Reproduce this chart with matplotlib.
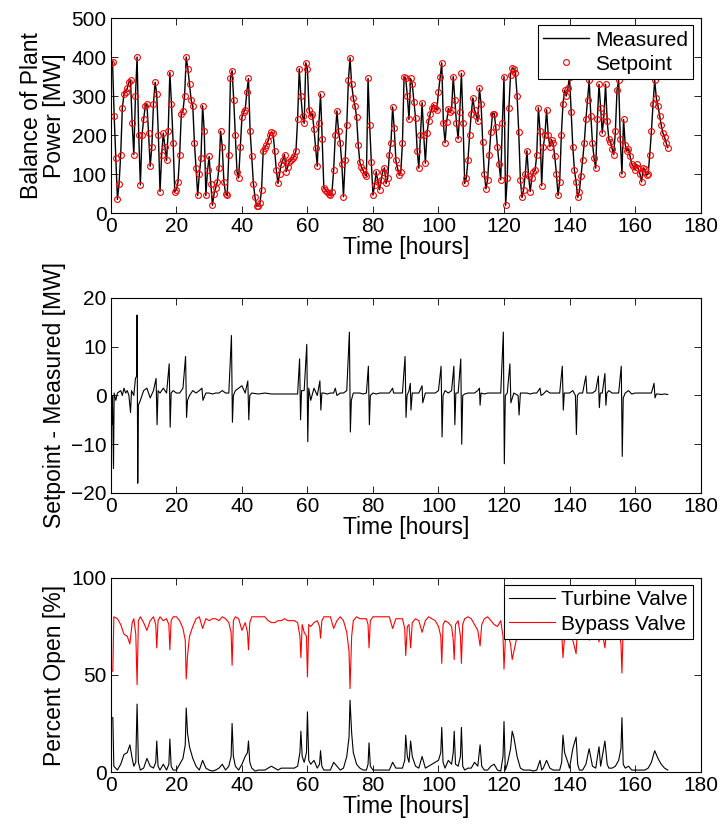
import matplotlib
matplotlib.use("Agg")
import matplotlib.pyplot as plt
import numpy as np

plt.rcParams['font.family'] = ['Liberation Sans', 'DejaVu Sans']

# Balance of plant power setpoint [MW], sampled every 0.5 h from 0 to 170 h
sample_step = 0.5
setpoint = [
    385, 388, 250, 140, 35, 75, 150, 270, 305, 310,          # 0 - 4.5
    320, 335, 340, 230, 150, 300, 400, 200, 72, 200,          # 5 - 9.5
    240, 275, 280, 205, 120, 170, 280, 335, 305, 200,         # 10 - 14.5
    55, 150, 205, 170, 135, 210, 360, 280, 180, 55,           # 15 - 19.5
    60, 80, 150, 255, 262, 300, 400, 370, 330, 290,           # 20 - 24.5
    275, 180, 115, 45, 100, 140, 275, 210, 45, 110,           # 25 - 29.5
    145, 75, 20, 50, 65, 80, 115, 210, 170, 80,               # 30 - 34.5
    50, 45, 150, 345, 365, 290, 200, 105, 90, 170,            # 35 - 39.5
    245, 258, 265, 310, 345, 210, 145, 75, 40, 18,            # 40 - 44.5
    18, 25, 60, 160, 168, 175, 185, 200, 207, 205,            # 45 - 49.5
    160, 110, 76, 100, 125, 136, 150, 106, 119, 131,          # 50 - 54.5
    135, 140, 145, 160, 240, 370, 300, 250, 230, 385,         # 55 - 59.5
    370, 265, 250, 255, 215, 166, 120, 230, 305, 190,         # 60 - 64.5
    65, 60, 55, 48, 45, 55, 110, 200, 262, 210,               # 65 - 69.5
    180, 125, 42, 135, 225, 340, 398, 330, 295, 275,          # 70 - 74.5
    247, 175, 130, 117, 110, 100, 95, 345, 225, 130,          # 75 - 79.5
    46, 72, 106, 80, 60, 85, 106, 116, 76, 90,                # 80 - 84.5
    150, 180, 272, 217, 135, 115, 97, 105, 180, 350,          # 85 - 89.5
    345, 300, 240, 345, 330, 285, 243, 160, 115, 200,         # 90 - 94.5
    283, 200, 128, 205, 235, 255, 270, 278, 270, 265,         # 95 - 99.5
    310, 348, 385, 230, 180, 234, 268, 258, 265, 350,         # 100 - 104.5
    290, 230, 190, 260, 358, 230, 76, 90, 135, 200,           # 105 - 109.5
    255, 295, 265, 250, 235, 320, 280, 183, 100, 62,          # 110 - 114.5
    85, 150, 208, 255, 255, 220, 170, 125, 85, 230,           # 115 - 119.5
    350, 20, 90, 270, 355, 372, 370, 360, 300, 208,           # 120 - 124.5
    85, 40, 60, 100, 160, 95, 55, 90, 105, 110,               # 125 - 129.5
    150, 270, 210, 70, 170, 200, 265, 200, 170, 188,          # 130 - 134.5
    180, 145, 100, 45, 80, 200, 280, 315, 300, 320,           # 135 - 139.5
    350, 260, 170, 110, 80, 40, 55, 95, 135, 180,             # 140 - 144.5
    240, 290, 340, 250, 180, 140, 115, 240, 330, 270,         # 145 - 149.5
    205, 250, 330, 235, 190, 183, 165, 150, 210, 315,         # 150 - 154.5
    340, 190, 100, 240, 175, 160, 165, 145, 125, 120,         # 155 - 159.5
    110, 125, 115, 100, 80, 115, 112, 97, 100, 150,           # 160 - 164.5
    210, 280, 340, 295, 275, 250, 225, 205, 195, 180,         # 165 - 169.5
    168,                                                      # 170
]
# measured output tracks the setpoint within a few MW at this scale
measured = setpoint

# Setpoint - Measured [MW]
err_hours = [
    0, 0.3, 0.5, 0.8, 1.0, 1.5, 2, 3, 3.5, 4, 4.5, 5, 5.5, 6, 6.3, 7, 7.5, 7.9, 8.0, 8.2,
    8.4, 9, 10, 11, 12, 13, 13.8, 14.1, 14.4, 15, 16, 17, 17.8, 18.1, 18.4, 19, 20, 21, 22, 22.8,
    23.1, 23.4, 24, 25, 26, 27, 27.8, 28.1, 29, 30, 31, 32, 33, 34, 35, 36, 36.8, 37.1, 37.4, 38,
    39, 40, 41, 41.8, 42.1, 42.4, 43, 45, 47, 49, 51, 53, 55, 57, 57.6, 57.9, 58.2, 59, 59.8, 60.1,
    60.4, 61, 62, 63, 63.8, 64.1, 64.4, 65, 66, 67, 68, 68.5, 69, 70, 71, 72, 72.8, 73.1, 73.4, 74,
    75, 76, 77, 78, 78.6, 78.9, 79.2, 80, 81, 82, 83, 84, 85, 86, 86.3, 87, 88, 89, 89.8, 90.1,
    90.4, 91, 91.4, 91.6, 92, 93, 94, 95, 95.2, 96, 97, 98, 99, 100, 100.8, 101.1, 101.4, 102, 103, 104,
    104.7, 105.0, 105.3, 106, 106.8, 107.1, 107.4, 108, 109, 110, 111, 112, 112.5, 112.7, 113, 114, 115, 116, 117, 118,
    119, 119.8, 120.1, 120.4, 121, 121.8, 122.1, 123, 124.3, 124.6, 125, 126, 127, 128, 129, 130, 131, 131.3, 132, 133,
    134, 135, 136, 137, 137.8, 138.1, 138.4, 139, 140, 141, 141.8, 142.1, 142.4, 143, 144, 145, 145.3, 146, 147, 148,
    148.8, 149.1, 149.4, 150, 150.8, 151.1, 151.4, 152, 153, 154, 155, 155.8, 156.1, 156.4, 157, 158, 159, 160, 161, 162,
    163, 164, 165, 165.8, 166.1, 166.5, 167, 168, 169, 170,
]
err_mw = [
    0, -6, 0, -15, 0.5, -1, 0.5, 1, 0, 1.5, 0.5, 1, 0, -3.5, 1, 0, 3.5, 4, 16.5, -18,
    -2, -1, 1, 1.5, -0.5, 1, 3.5, -6, 1, 0.5, 1.5, 0.5, 6.5, -6.5, 0.5, 1, 0.5, 0.5, 1.5, 8,
    -4.5, -1, 0, 1, 0.5, 1, 1.5, -1, 0.5, 0.5, 0.3, 0.5, 0.5, 1, 0.5, 0.5, 12.3, -5.5, 0, 1,
    1.5, 2, 0.5, 3, -5, 0, 0.5, 0.3, 0.5, 0.3, 0.3, 0.3, 0.3, 0.3, 7.5, -5, 1, 1, 10.5, -9.5,
    1.5, -1, 1.5, 0, 3, -3, 0.5, 0.5, 0.3, 0.5, 0.5, 1.5, 0, 0.5, 0.5, 1, 13, -7.5, -1, 0.5,
    0.5, 0.5, 0.3, 0.5, 6, -6, 0, 0.5, 0.3, 0.5, 0.5, 0.5, 0.5, 1.5, 0.5, 0.5, 0.5, 0.5, 8, -4.5,
    0, 1, 2.5, -3, 0.5, 0.5, 0.5, 2, -1.5, 0.5, 0.5, 0.5, 0.5, 1, 6, -8.5, 0, 1, 0.5, 1,
    6, -6, 0.5, 0.5, 7.5, -10, 0, 0.3, 0.5, 0.5, 0.5, 1, 1.5, -2, 0.5, 0.3, 0.5, 0.5, 0.5, 0.5,
    0.5, 13, -14, 0, 0.5, 6.5, -1.5, 0.5, 0, -4, 0.5, 0.5, 0.5, 0.3, 0.5, 0.5, 1.5, 0, 0.3, 1,
    0.5, 0.5, 0.5, 0.5, 6, -3, 0.5, 0.5, 0.5, 1, 0, -8, 0, 0.5, 0.5, 4, 0.5, 0.5, 0.5, 1,
    4, -2.5, 0.5, 0.5, 4.5, -2, 0.5, 1, 0.5, 0.5, 0.5, 6, -12.5, -0.5, 0.5, 1, 0.3, 0.5, 0.5, 0.5,
    0.5, 0.5, 0.5, 2.5, -0.5, 0.3, 0.3, 0.2, 0.3, 0.2,
]

# valve openings [%]
valve_hours = [
    0, 0.6, 0.9, 2, 3, 4, 5, 5.8, 6.5, 7, 7.6, 8, 8.4, 9, 10, 11, 12, 13, 13.7, 14,
    14.4, 15, 16, 17, 17.7, 18, 18.4, 19, 20, 21, 22, 22.7, 23, 23.4, 24, 25, 26, 27, 28, 29,
    30, 31, 32, 33, 34, 35, 36, 36.7, 37, 37.4, 38, 39, 40, 41, 41.7, 42, 42.4, 43, 44, 45,
    46, 47, 48, 49, 50, 51, 52, 53, 54, 55, 56, 57, 57.7, 58, 58.4, 59, 59.7, 60, 60.4, 61,
    62, 63, 63.7, 64, 64.4, 65, 66, 67, 68, 69, 70, 71, 72, 72.7, 73, 73.5, 74, 75, 76, 77,
    78, 78.5, 78.8, 79.2, 80, 81, 82, 83, 84, 85, 86, 87, 88, 89, 89.7, 90, 90.5, 91, 91.5, 92,
    93, 94, 95, 96, 97, 98, 99, 100, 100.7, 101, 101.4, 102, 103, 104, 104.5, 104.8, 105.2, 106, 106.7, 107,
    107.4, 108, 109, 110, 111, 112, 112.7, 113.2, 114, 115, 116, 117, 118, 119, 119.7, 120, 120.4, 121, 122, 122.5,
    123, 124, 125, 126, 127, 128, 129, 130, 131, 131.5, 132, 133, 134, 135, 136, 137, 137.6, 138, 138.5, 139.5,
    140, 141, 142, 142.5, 143, 144, 145, 146, 147, 148, 149, 149.5, 150, 150.8, 151.5, 152, 153, 154, 155, 155.7,
    156, 156.4, 157, 158, 159, 160, 161, 162, 163, 164, 165, 166, 167, 168, 169, 170,
]
turbine_pct = [
    28, 28, 3, 1, 4, 9, 10, 14, 7, 3, 5, 35, 5, 1, 2, 7, 3, 2, 5, 16,
    3, 1, 4, 1, 4, 17, 3, 1, 1, 4, 7, 14, 33, 20, 13, 7, 3, 1, 6, 2,
    1, 0.5, 1, 2, 4, 1, 3, 8, 25, 8, 3, 1, 4, 8, 10, 16, 5, 2, 0.5, 1,
    1, 1, 2, 3, 2, 1, 2, 2, 2, 2, 2, 3, 10, 21, 8, 5, 10, 31, 6, 4,
    6, 2, 4, 11, 3, 1, 1, 1, 5, 3, 1, 2, 8, 18, 37, 20, 10, 4, 2, 1,
    1, 4, 15, 3, 1, 1, 1, 1, 1, 1, 5, 2, 2, 2, 6, 19, 8, 5, 16, 8,
    3, 2, 8, 2, 3, 4, 5, 6, 10, 23, 5, 2, 6, 4, 10, 21, 4, 3, 8, 23,
    3, 1, 2, 2, 5, 3, 14, 3, 1, 1, 3, 4, 1, 0.5, 8, 26, 1, 4, 12, 21,
    18, 8, 2, 1, 1, 1, 0.5, 1, 6, 1, 2, 6, 2, 1, 1, 1, 5, 19, 10, 5,
    2, 12, 18, 4, 1, 1, 4, 12, 3, 2, 13, 3, 8, 16, 4, 2, 2, 3, 6, 12,
    28, 4, 2, 3, 1, 1, 1, 1, 1, 2, 5, 11, 7, 4, 2, 1,
]
bypass_pct = [
    52, 52, 80, 79, 76, 71, 70, 66, 77, 79, 71, 45, 78, 80, 77, 73, 78, 80, 76, 64,
    78, 80, 78, 79, 76, 63, 78, 80, 80, 78, 74, 68, 48, 60, 70, 75, 79, 80, 74, 79,
    78, 79, 79, 78, 80, 79, 77, 72, 55, 78, 80, 79, 73, 77, 72, 63, 77, 80, 80, 80,
    80, 80, 78, 77, 77, 78, 78, 79, 78, 78, 78, 77, 70, 59, 76, 72, 70, 49, 76, 75,
    77, 78, 75, 69, 78, 80, 80, 80, 74, 78, 80, 78, 72, 62, 43, 70, 78, 80, 79, 79,
    79, 76, 64, 78, 80, 80, 80, 80, 80, 80, 74, 79, 79, 79, 74, 60, 75, 76, 64, 77,
    79, 78, 72, 78, 80, 79, 78, 75, 70, 56, 76, 78, 77, 75, 68, 58, 76, 78, 70, 56,
    76, 79, 80, 79, 76, 73, 65, 76, 79, 80, 78, 76, 75, 78, 70, 53, 68, 72, 66, 58,
    62, 70, 76, 78, 79, 80, 80, 79, 74, 79, 78, 74, 78, 79, 80, 79, 72, 59, 70, 75,
    78, 68, 61, 76, 79, 80, 76, 68, 77, 78, 67, 77, 72, 64, 76, 78, 78, 77, 74, 66,
    51, 76, 78, 77, 79, 79, 79, 80, 79, 78, 75, 69, 73, 76, 78, 79,
]

hours = np.arange(len(setpoint)) * sample_step

tick_fs = 15
label_fs = 16.5
fig = plt.figure(figsize=(7.2, 8.27), dpi=100)
ax1 = fig.add_axes([0.154, 0.7424, 0.819, 0.2358])
ax2 = fig.add_axes([0.154, 0.4039, 0.819, 0.2358])
ax3 = fig.add_axes([0.154, 0.0665, 0.819, 0.2346])

ax1.plot(hours, measured, color='k', lw=1.0, label='Measured')
ax1.plot(hours, setpoint, ls='none', marker='o', ms=4.2, mfc='none',
         mec='red', mew=0.8, label='Setpoint')
ax1.set_ylim(0, 500)
ax1.set_yticks(np.arange(0, 501, 100))
ax1.set_ylabel('Balance of Plant\nPower [MW]', fontsize=label_fs, linespacing=1.0)

ax2.plot(err_hours, err_mw, color='k', lw=0.8)
ax2.set_ylim(-20, 20)
ax2.set_yticks([-20, -10, 0, 10, 20])
ax2.set_ylabel('Setpoint - Measured [MW]', fontsize=label_fs)

ax3.plot(valve_hours, turbine_pct, color='k', lw=0.8, label='Turbine Valve')
ax3.plot(valve_hours, bypass_pct, color='red', lw=0.8, label='Bypass Valve')
ax3.set_ylim(0, 100)
ax3.set_yticks([0, 50, 100])
ax3.set_ylabel('Percent Open [%]', fontsize=label_fs)

for ax in (ax1, ax2, ax3):
    ax.set_xlim(0, 180)
    ax.set_xticks(np.arange(0, 181, 20))
    ax.set_xlabel('Time [hours]', fontsize=label_fs, labelpad=0)
    ax.tick_params(direction='in', length=5, width=0.6, top=True, right=True,
                   labelsize=tick_fs, pad=3)
    for s in ax.spines.values():
        s.set_linewidth(0.8)

for ax in (ax1, ax3):
    leg = ax.legend(loc='upper right', fontsize=tick_fs, fancybox=False, framealpha=1,
                    edgecolor='k', handlelength=2.2, handletextpad=0.3,
                    borderaxespad=0.35, borderpad=0.25, labelspacing=0.25)
    leg.get_frame().set_linewidth(0.8)

fig.savefig('out.png', dpi=100)
